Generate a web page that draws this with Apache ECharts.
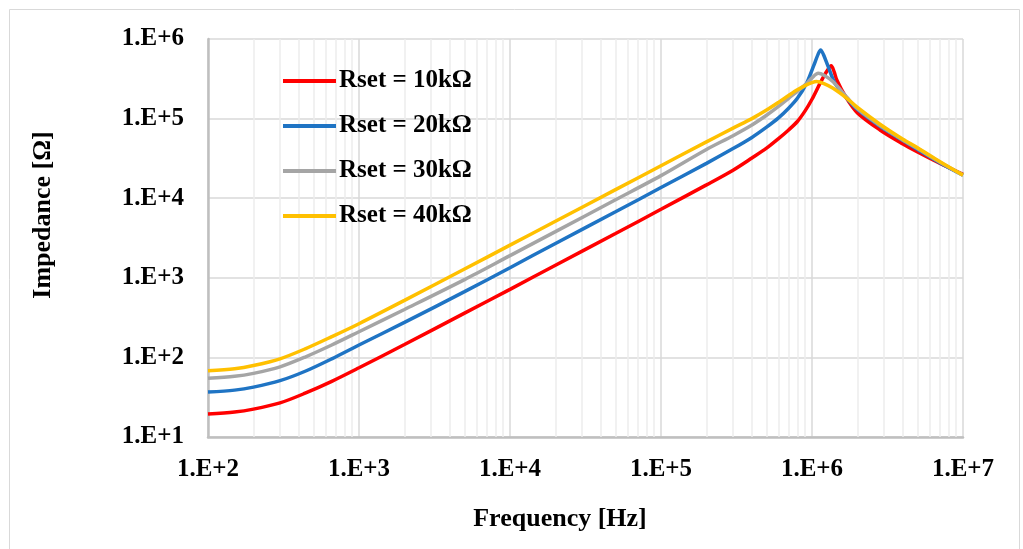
<!DOCTYPE html>
<html>
<head>
<meta charset="utf-8">
<script src="https://cdn.jsdelivr.net/npm/echarts@6/dist/echarts.min.js"></script>
<style>
html,body{margin:0;padding:0;background:#fff;}
#chart{width:1023px;height:549px;}
</style>
</head>
<body>
<div id="chart"></div>
<script>
// Series data: [frequency Hz, impedance Ohm]
const seriesNames = ['Rset = 10kΩ', 'Rset = 20kΩ', 'Rset = 30kΩ', 'Rset = 40kΩ'];
const seriesColors = ['#FF0000', '#1F74C4', '#A5A5A5', '#FFC000'];

const rset10 = [[100,19.5],[150,20.6],[200,22.4],[300,26.8],[440,35.5],[660,50],[1000,74],[2000,145],[5000,360],[1e4,715],[2e4,1440],[5e4,3600],[1e5,7250],[2e5,14700],[3e5,22500],[4e5,32000],[5e5,42500],[6e5,56000],[7e5,72000],[8e5,92000],[9e5,125000],[1e6,175000],[1.13e6,277000],[1.25e6,390000],[1.34e6,460000],[1.4e6,390000],[1.46e6,305000],[1.67e6,188000],[2e6,118000],[2.82e6,72000],[4e6,48000],[5e6,38000],[7e6,27500],[1e7,20000]];
const rset20 = [[100,36.7],[150,38.8],[200,42.3],[300,51],[440,67],[660,96],[1000,143],[2000,275],[5000,670],[1e4,1340],[2e4,2700],[5e4,6750],[1e5,13600],[2e5,27400],[3e5,42000],[4e5,58000],[5e5,78000],[6e5,102000],[7e5,135000],[8e5,180000],[9.2e5,277000],[1.02e6,449000],[1.1e6,650000],[1.14e6,730000],[1.19e6,640000],[1.28e6,449000],[1.42e6,277000],[1.7e6,180000],[2e6,130000],[2.82e6,80000],[4e6,53000],[5e6,41000],[7e6,28000],[1e7,19500]];
const rset30 = [[100,54.6],[150,57.8],[200,63],[300,76],[440,101],[660,143],[1000,210],[2000,400],[5000,950],[1e4,1900],[2e4,3800],[5e4,9550],[1e5,19200],[2e5,41000],[3e5,61000],[4e5,83000],[5e5,110000],[6e5,142000],[7e5,180000],[8e5,220000],[9e5,265000],[1e6,325000],[1.1e6,370000],[1.2e6,350000],[1.38e6,290000],[1.7e6,186000],[2e6,133000],[2.82e6,82000],[4e6,54000],[5e6,42000],[7e6,28500],[1e7,19500]];
const rset40 = [[100,68],[150,72],[200,79],[300,96],[440,128],[660,182],[1000,265],[2000,520],[5000,1290],[1e4,2570],[2e4,5130],[5e4,12800],[1e5,25600],[2e5,51000],[3e5,76000],[4e5,100000],[5e5,128000],[6e5,160000],[7e5,195000],[8e5,230000],[9e5,260000],[1e6,283000],[1.07e6,292000],[1.2e6,275000],[1.38e6,240000],[1.7e6,180000],[2e6,138000],[2.82e6,85000],[4e6,55000],[5e6,43000],[7e6,29000],[1e7,19500]];

// Axis ticks
const xMinorTicks = [200,300,400,500,600,700,800,900,
  2000,3000,4000,5000,6000,7000,8000,9000,
  2e4,3e4,4e4,5e4,6e4,7e4,8e4,9e4,
  2e5,3e5,4e5,5e5,6e5,7e5,8e5,9e5,
  2e6,3e6,4e6,5e6,6e6,7e6,8e6,9e6];

const allData = [rset10, rset20, rset30, rset40];
const FONT = '"Liberation Serif", "Times New Roman", serif';

const chart = echarts.init(document.getElementById('chart'));
const fmt = v => '1.E+' + Math.round(Math.log10(v));

const series = allData.map((d, i) => ({
  name: seriesNames[i],
  type: 'line',
  data: d,
  smooth: 0.3,
  showSymbol: false,
  symbol: 'none',
  z: 3 + i,
  lineStyle: { color: seriesColors[i], width: 3.5 },
  itemStyle: { color: seriesColors[i] }
}));

series.unshift({
  name: 'minorGrid',
  type: 'line',
  data: [],
  silent: true,
  z: 1,
  markLine: {
    silent: true,
    z: 1,
    symbol: 'none',
    animation: false,
    label: { show: false },
    lineStyle: { color: '#EDEDED', width: 1.5, type: 'solid' },
    data: xMinorTicks.map(v => ({ xAxis: v }))
  }
});

chart.setOption({
  animation: false,
  backgroundColor: '#fff',
  grid: { left: 208, right: 60, top: 39, bottom: 112 },
  legend: {
    data: seriesNames,
    orient: 'vertical',
    left: 278,
    top: 63,
    z: 10,
    itemWidth: 53,
    itemHeight: 4,
    itemGap: 19,
    icon: 'rect',
    textStyle: { fontFamily: FONT, fontWeight: 'bold', fontSize: 25, color: '#000', lineHeight: 26, padding: [0,0,0,-2] }
  },
  xAxis: {
    type: 'log',
    logBase: 10,
    min: 100,
    max: 1e7,
    splitNumber: 5,
    axisLine: { show: true, onZero: false, lineStyle: { color: '#BFBFBF', width: 2.5 } },
    axisTick: { show: false },
    axisLabel: { formatter: fmt, fontFamily: FONT, fontWeight: 'bold', fontSize: 25, color: '#000', margin: 20 },
    splitLine: { show: true, lineStyle: { color: '#D9D9D9', width: 1.5 } }
  },
  yAxis: {
    type: 'log',
    logBase: 10,
    min: 10,
    max: 1e6,
    splitNumber: 5,
    axisLine: { show: true, lineStyle: { color: '#BFBFBF', width: 2.5 } },
    axisTick: { show: false },
    axisLabel: { formatter: fmt, fontFamily: FONT, fontWeight: 'bold', fontSize: 25, color: '#000', margin: 24 },
    splitLine: { show: true, lineStyle: { color: '#D9D9D9', width: 1.5 } }
  },
  graphic: [
    { type: 'rect', silent: true, z: -10, shape: { x: 9.5, y: 9.5, width: 1010, height: 545 }, style: { fill: 'none', stroke: '#D9D9D9', lineWidth: 1 } },
    { type: 'text', x: 560, y: 519, style: { text: 'Frequency [Hz]', font: 'bold 26px ' + FONT, fill: '#000', textAlign: 'center', textVerticalAlign: 'middle' } },
    { type: 'text', x: 43, y: 215, rotation: Math.PI / 2, style: { text: 'Impedance [Ω]', font: 'bold 26px ' + FONT, fill: '#000', textAlign: 'center', textVerticalAlign: 'middle' } }
  ],
  series: series
});
</script>
</body>
</html>
